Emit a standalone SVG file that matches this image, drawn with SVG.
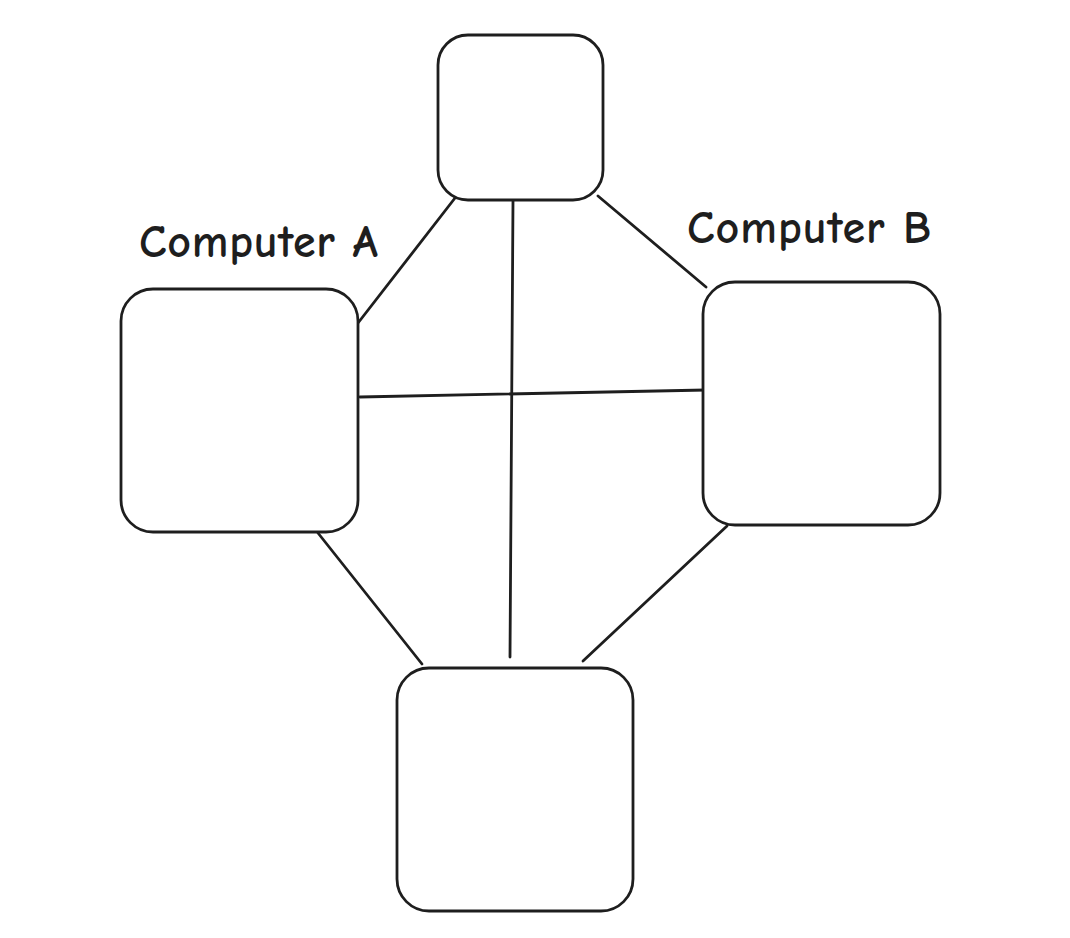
<svg xmlns="http://www.w3.org/2000/svg" width="1070" height="938" viewBox="0 0 1070 938">
<style>
.box{fill:#ffffff;stroke:#1e1e1e;stroke-width:2.8}
.edge{stroke:#1e1e1e;stroke-width:2.8;stroke-linecap:round;fill:none}
.lbl{font-family:"Comic Neue","Liberation Sans",sans-serif;font-size:46px;font-weight:bold;fill:#1e1e1e}
</style>
<rect width="1070" height="938" fill="#ffffff"/>
<g id="connectors">
<line class="edge" x1="455" y1="198" x2="358" y2="323"/>
<line class="edge" x1="598" y1="196" x2="706" y2="287"/>
<line class="edge" x1="513" y1="201" x2="510" y2="657"/>
<line class="edge" x1="360" y1="397" x2="706" y2="390"/>
<line class="edge" x1="318" y1="533" x2="422" y2="664"/>
<line class="edge" x1="727" y1="526" x2="583" y2="661"/>
</g>
<g id="node-top"><rect class="box" x="438" y="35" width="165" height="165" rx="30"/></g>
<g id="node-a"><rect class="box" x="121" y="289" width="237" height="243" rx="32"/></g>
<g id="node-b"><rect class="box" x="703" y="282" width="237" height="243" rx="32"/></g>
<g id="node-bottom"><rect class="box" x="397" y="668" width="236" height="243" rx="32"/></g>
<g id="label-a"><text class="lbl" x="139" y="257" textLength="239" lengthAdjust="spacing">Computer A</text></g>
<g id="label-b"><text class="lbl" x="687" y="243" textLength="244" lengthAdjust="spacing">Computer B</text></g>
</svg>
